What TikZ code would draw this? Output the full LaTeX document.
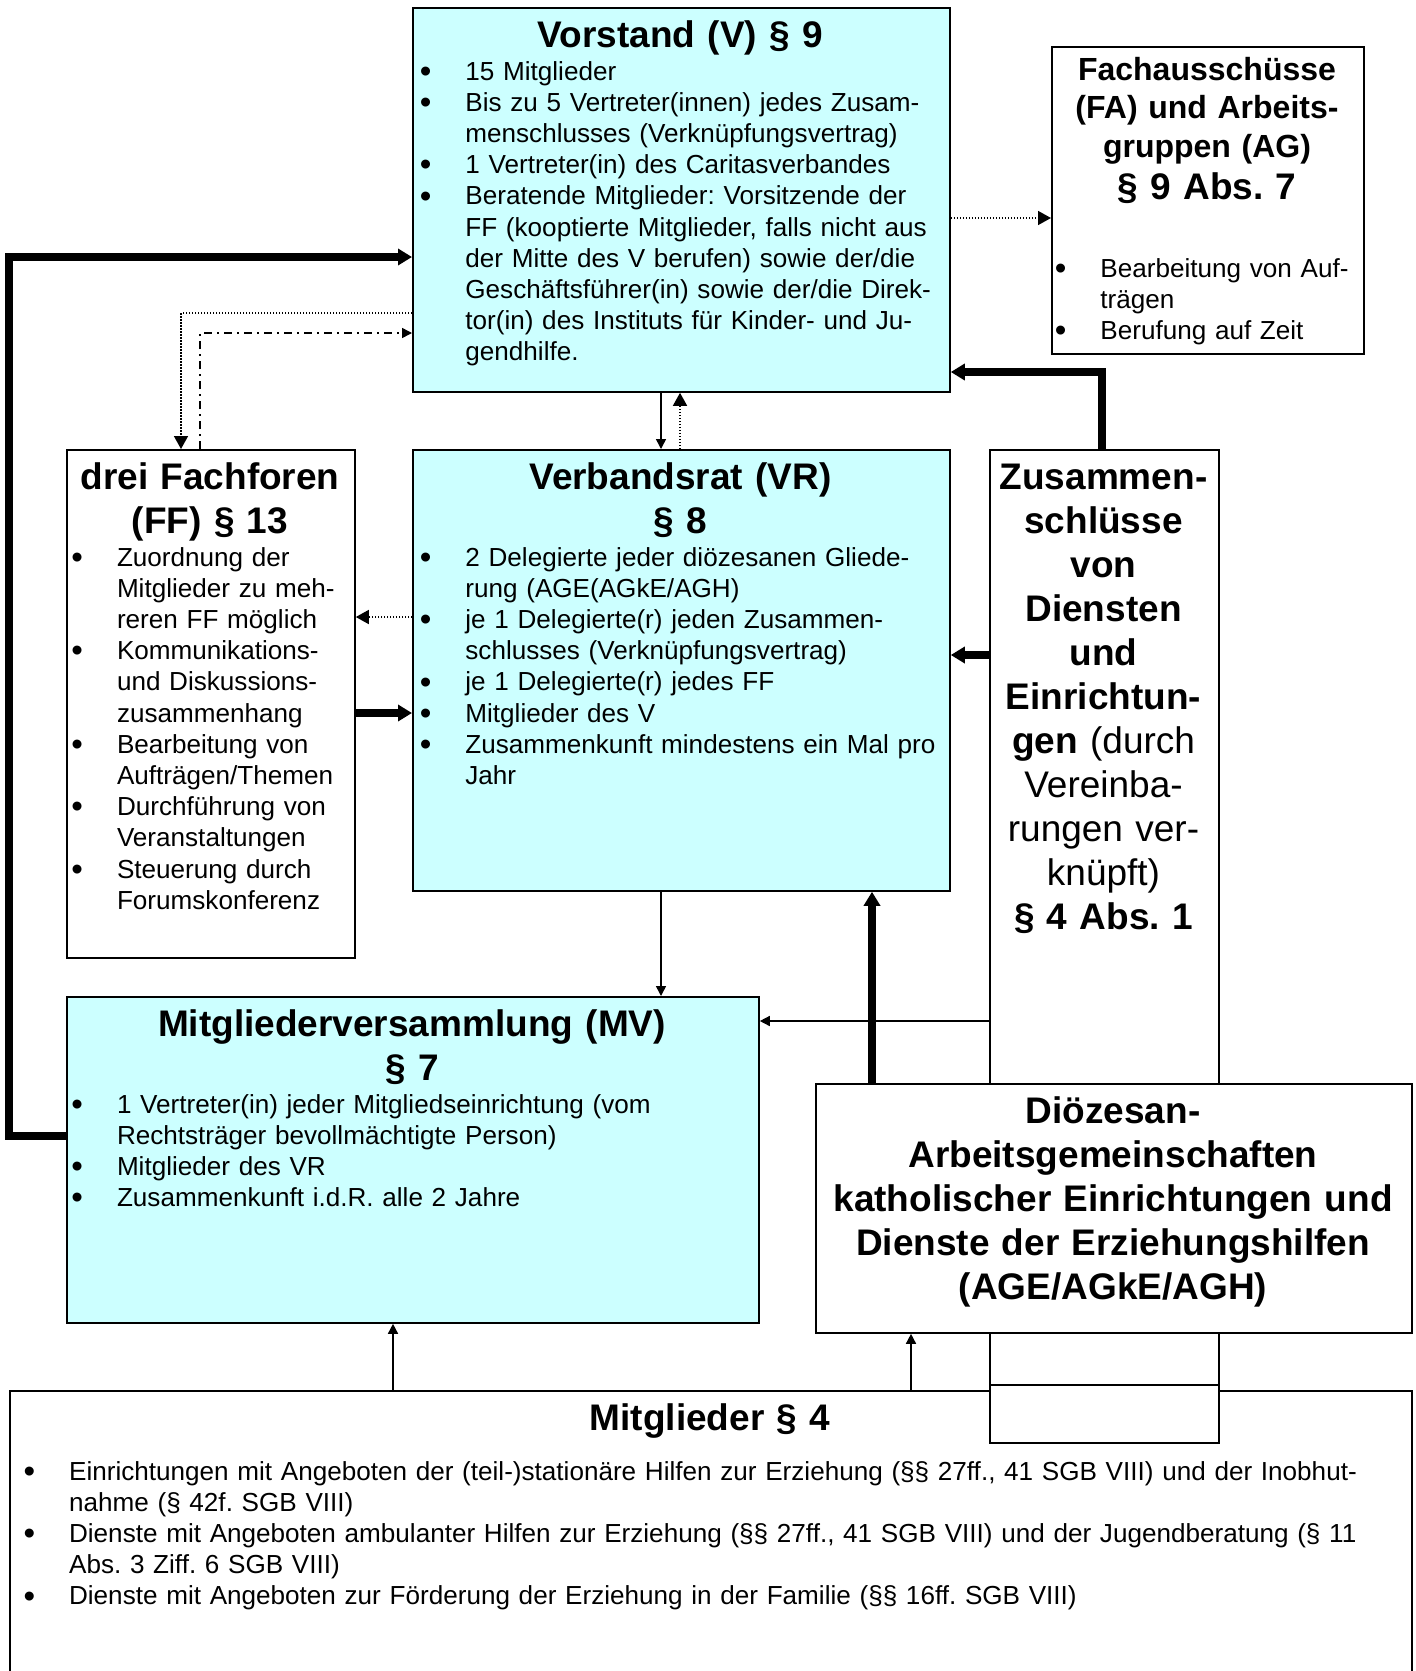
\documentclass[tikz,border=0pt]{standalone}
\usepackage{fontspec}
\setmainfont{Liberation Sans}
\usetikzlibrary{arrows.meta}
\definecolor{turq}{HTML}{CCFFFF}
\frenchspacing

\newcommand\txtfont{\fontsize{13.05}{15.6}\selectfont}
\newcommand\headfont{\bfseries\fontsize{18.5}{22}\selectfont}
\newcommand\fafont{\bfseries\fontsize{16}{19.25}\selectfont}
\newlength\bulw
\setlength\bulw{20.5pt}
\newcommand\bul[1]{\makebox[\bulw][l]{\hspace*{-2.3pt}\raisebox{-1.1pt}[0pt][0pt]{\fontsize{16.5}{1}\selectfont\textbullet}}#1}
\newcommand\cnt[1]{\hspace*{\bulw}#1}

\tikzset{
  organ/.style={draw, line width=0.9pt, anchor=north west, inner sep=0pt},
  title/.style={anchor=base, align=center, font=\headfont, inner sep=0pt, text width=300pt},
  items/.style={anchor=base west, align=left, font=\txtfont, inner sep=0pt, text width=340pt},
  conn/.style={line width=0.75pt, -{Triangle[length=5pt,width=5pt]}},
  dotline/.style={line width=0.75pt, dash pattern=on 0.75pt off 0.75pt, -{Triangle[length=6.5pt,width=7pt]}},
  dashdotline/.style={line width=0.75pt, dash pattern=on 4pt off 2.5pt on 1pt off 2.5pt, -{Triangle[length=5pt,width=5pt]}},
  heavyline/.style={line width=4pt, -{Triangle[length=7pt,width=8pt]}},
}

\begin{document}
\begin{tikzpicture}[x=0.5pt, y=-0.5pt]
  \useasboundingbox (0,0) rectangle (1415,1671);

  % Kaesten
  \node[organ, minimum width=701pt, minimum height=145pt] (mit) at (9,1390) {};
  \node[organ, fill=white, minimum width=114.5pt, minimum height=496.5pt] (zus) at (989,449) {};
  \coordinate (zcut) at (0,1385);
  \draw[line width=0.9pt] (zus.west |- zcut) -- (zus.east |- zcut);
  \node[organ, fill=white, minimum width=298pt, minimum height=124.5pt] (dio) at (815,1083) {};
  \node[organ, fill=turq, minimum width=268.5pt, minimum height=192pt] (vor) at (412,7) {};
  \node[organ, minimum width=156pt, minimum height=153.5pt] (fa) at (1051,46) {};
  \node[organ, minimum width=144pt, minimum height=254pt] (ff) at (66,449) {};
  \node[organ, fill=turq, minimum width=268.5pt, minimum height=220.5pt] (vr) at (412,449) {};
  \node[organ, fill=turq, minimum width=346pt, minimum height=163pt] (mv) at (66,996) {};

  % Vorstand
  \node[title] (vorhead) at (680.5,47) {Vorstand (V) § 9};
  \node[items] (vorlist) at (424,80) {\bul{15 Mitglieder}\\
    \bul{Bis zu 5 Vertreter(innen) jedes Zusam-}\\
    \cnt{menschlusses (Verknüpfungsvertrag)}\\
    \bul{1 Vertreter(in) des Caritasverbandes}\\
    \bul{Beratende Mitglieder: Vorsitzende der}\\
    \cnt{FF (kooptierte Mitglieder, falls nicht aus}\\
    \cnt{der Mitte des V berufen) sowie der/die}\\
    \cnt{Geschäftsführer(in) sowie der/die Direk-}\\
    \cnt{tor(in) des Instituts für Kinder- und Ju-}\\
    \cnt{gendhilfe.}};

  % Fachausschuesse
  \node[title, font=\fafont] (fahead) at (1207,80) {Fachausschüsse\\(FA) und Arbeits-\\gruppen (AG)};
  \node[title] (fapar) at (1207,199.5) {§ 9 Abs. 7};
  \node[items] (falist) at (1059,277) {\bul{Bearbeitung von Auf-}\\
    \cnt{trägen}\\
    \bul{Berufung auf Zeit}};

  % Fachforen
  \node[title] (ffhead) at (210,489) {drei Fachforen\\(FF) § 13};
  \node[items] (fflist) at (75.6,566) {\bul{Zuordnung der}\\
    \cnt{Mitglieder zu meh-}\\
    \cnt{reren FF möglich}\\
    \bul{Kommunikations-}\\
    \cnt{und Diskussions-}\\
    \cnt{zusammenhang}\\
    \bul{Bearbeitung von}\\
    \cnt{Aufträgen/Themen}\\
    \bul{Durchführung von}\\
    \cnt{Veranstaltungen}\\
    \bul{Steuerung durch}\\
    \cnt{Forumskonferenz}};

  % Verbandsrat
  \node[title] (vrhead) at (680.5,489) {Verbandsrat (VR)\\§ 8};
  \node[items] (vrlist) at (424,566) {\bul{2 Delegierte jeder diözesanen Gliede-}\\
    \cnt{rung (AGE(AGkE/AGH)}\\
    \bul{je 1 Delegierte(r) jeden Zusammen-}\\
    \cnt{schlusses (Verknüpfungsvertrag)}\\
    \bul{je 1 Delegierte(r) jedes FF}\\
    \bul{Mitglieder des V}\\
    \bul{Zusammenkunft mindestens ein Mal pro}\\
    \cnt{Jahr}};

  % Zusammenschluesse
  \node[title] (zustext) at (1103.5,489) {Zusammen-\\schlüsse\\von\\Diensten\\und\\Einrichtun-\\gen \mdseries(durch\\Vereinba-\\rungen ver-\\knüpft)\\\bfseries§ 4 Abs. 1};

  % Mitgliederversammlung
  \node[title] (mvhead) at (412,1036) {Mitgliederversammlung (MV)\\§ 7};
  \node[items] (mvlist) at (75.6,1113) {\bul{1 Vertreter(in) jeder Mitgliedseinrichtung (vom}\\
    \cnt{Rechtsträger bevollmächtigte Person)}\\
    \bul{Mitglieder des VR}\\
    \bul{Zusammenkunft i.d.R. alle 2 Jahre}};

  % Dioezesan-AGs
  \node[title] (diotext) at (1113,1123) {Diözesan-\\Arbeitsgemeinschaften\\katholischer Einrichtungen und\\Dienste der Erziehungshilfen\\(AGE/AGkE/AGH)};

  % Mitglieder
  \node[title] (mithead) at (710,1430) {Mitglieder § 4};
  \node[items, text width=690pt] (mitlist) at (27.7,1480) {\bul{Einrichtungen mit Angeboten der (teil-)stationäre Hilfen zur Erziehung (§§ 27ff., 41 SGB VIII) und der Inobhut-}\\
    \cnt{nahme (§ 42f. SGB VIII)}\\
    \bul{Dienste mit Angeboten ambulanter Hilfen zur Erziehung (§§ 27ff., 41 SGB VIII) und der Jugendberatung (§ 11}\\
    \cnt{Abs. 3 Ziff. 6 SGB VIII)}\\
    \bul{Dienste mit Angeboten zur Förderung der Erziehung in der Familie (§§ 16ff. SGB VIII)}};

  % Verbindungen
  \coordinate (lb) at (9,1136);
  \coordinate (lt) at (9,257);
  \draw[heavyline] (mv.west |- lb) -- (lb) -- (lt) -- (vor.west |- lt);
  \coordinate (dv) at (181,313);
  \draw[dotline] (vor.west |- dv) -- (dv) -- (ff.north -| dv);
  \coordinate (dd) at (200,333);
  \draw[dashdotline] (ff.north -| dd) -- (dd) -- (vor.west |- dd);
  \coordinate (vx) at (661,0);
  \coordinate (rx) at (680,0);
  \draw[conn] (vor.south -| vx) -- (vr.north -| vx);
  \draw[dotline] (vr.north -| rx) -- (vor.south -| rx);
  \coordinate (fy) at (0,218);
  \draw[dotline] (vor.east |- fy) -- (fa.west |- fy);
  \coordinate (zv) at (1102,372);
  \draw[heavyline] (zus.north -| zv) -- (zv) -- (vor.east |- zv);
  \coordinate (ry) at (0,617);
  \draw[dotline] (vr.west |- ry) -- (ff.east |- ry);
  \coordinate (fry) at (0,713);
  \draw[heavyline] (ff.east |- fry) -- (vr.west |- fry);
  \coordinate (zry) at (0,655);
  \draw[heavyline] (zus.west |- zry) -- (vr.east |- zry);
  \draw[conn] (vr.south -| vx) -- (mv.north -| vx);
  \coordinate (zmy) at (0,1021);
  \draw[conn] (zus.west |- zmy) -- (mv.east |- zmy);
  \coordinate (dx) at (872,0);
  \draw[heavyline] (dio.north -| dx) -- (vr.south -| dx);
  \coordinate (mx) at (393,0);
  \draw[conn] (mit.north -| mx) -- (mv.south -| mx);
  \coordinate (mdx) at (911,0);
  \draw[conn] (mit.north -| mdx) -- (dio.south -| mdx);
\end{tikzpicture}
\end{document}
